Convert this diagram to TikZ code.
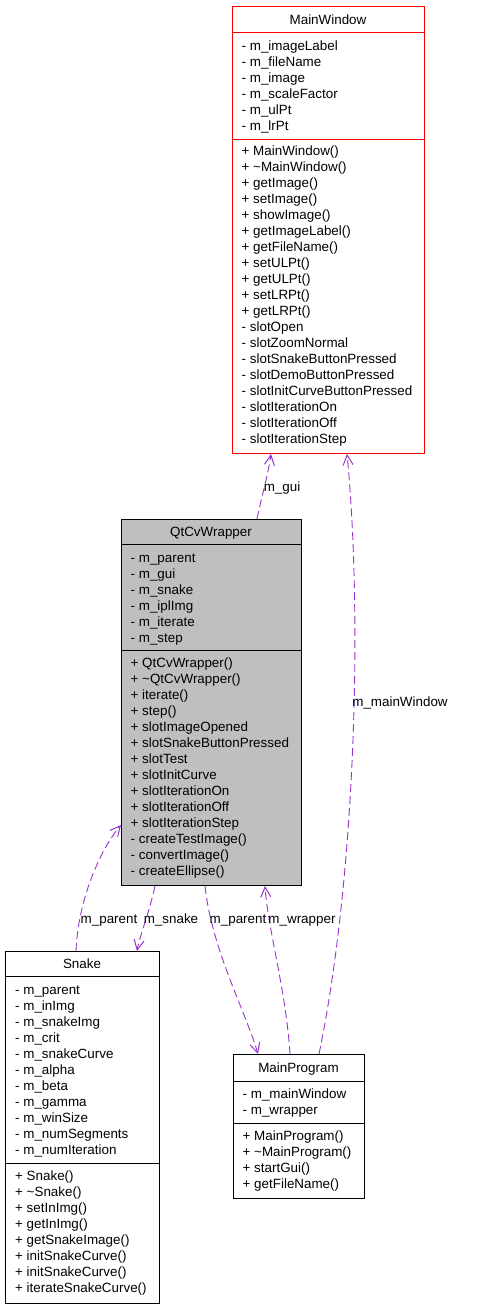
\documentclass[tikz,border=0pt]{standalone}
\usepackage{fontspec}
\setmainfont{Liberation Sans}
\usetikzlibrary{arrows.meta}
\definecolor{refpurple}{HTML}{9A32CD}
\definecolor{boxgray}{HTML}{BFBFBF}
\tikzset{
  cls/.style={draw=black, line width=1pt, fill=white, anchor=north west, inner sep=0pt},
  member/.style={anchor=west, inner sep=0pt, text height=11.5pt, text depth=1.5pt},
  title/.style={member, anchor=center},
  ref/.style={draw=refpurple, line width=0.9pt, dash pattern=on 8pt off 4pt,
    -{Straight Barb[length=10pt,width=10pt,line width=1pt]}},
  reflabel/.style={inner sep=0pt, text height=11.5pt, text depth=1.5pt}
}
\begin{document}
\begin{tikzpicture}[x=1pt, y=-1pt, font=\fontsize{13.4}{16}\selectfont]
  \useasboundingbox (0,0) rectangle (488,1307);
  % class boxes
  \node[cls, draw=red, minimum width=192pt, minimum height=447pt] (mw) at (232,6) {};
  \node[cls, fill=boxgray, minimum width=180pt, minimum height=366pt] (qt) at (121,519) {};
  \node[cls, minimum width=154pt, minimum height=352pt] (sn) at (5,951) {};
  \node[cls, minimum width=131pt, minimum height=144pt] (mp) at (233,1054) {};
  \draw[red, line width=1pt] ([yshift=-26pt]mw.north west) -- ([yshift=-26pt]mw.north east);
  \draw[red, line width=1pt] ([yshift=-133pt]mw.north west) -- ([yshift=-133pt]mw.north east);
  \draw[line width=1pt] ([yshift=-25pt]qt.north west) -- ([yshift=-25pt]qt.north east);
  \draw[line width=1pt] ([yshift=-131pt]qt.north west) -- ([yshift=-131pt]qt.north east);
  \draw[line width=1pt] ([yshift=-25pt]sn.north west) -- ([yshift=-25pt]sn.north east);
  \draw[line width=1pt] ([yshift=-212pt]sn.north west) -- ([yshift=-212pt]sn.north east);
  \draw[line width=1pt] ([yshift=-27pt]mp.north west) -- ([yshift=-27pt]mp.north east);
  \draw[line width=1pt] ([yshift=-69pt]mp.north west) -- ([yshift=-69pt]mp.north east);
  % titles
  \node[title] (mwT) at (328,19) {MainWindow};
  \node[title] (qtT) at (211,531) {QtCvWrapper};
  \node[title] (snT) at (82,963) {Snake};
  \node[title] (mpT) at (298.5,1067) {MainProgram};
  % MainWindow
  \foreach \m [count=\i from 0] in {- m\_imageLabel, - m\_fileName, - m\_image,
      - m\_scaleFactor, - m\_ulPt, - m\_lrPt}
    \node[member] (mwa\i) at (241.5,45+16*\i) {\m};
  \foreach \m [count=\i from 0] in {+ MainWindow(), + \textasciitilde MainWindow(),
      + getImage(), + setImage(), + showImage(), + getImageLabel(), + getFileName(),
      + setULPt(), + getULPt(), + setLRPt(), + getLRPt(), - slotOpen, - slotZoomNormal,
      - slotSnakeButtonPressed, - slotDemoButtonPressed, - slotInitCurveButtonPressed,
      - slotIterationOn, - slotIterationOff, - slotIterationStep}
    \node[member] (mwm\i) at (241.5,150+16*\i) {\m};
  % QtCvWrapper
  \foreach \m [count=\i from 0] in {- m\_parent, - m\_gui, - m\_snake, - m\_iplImg,
      - m\_iterate, - m\_step}
    \node[member] (qta\i) at (130.5,557+16*\i) {\m};
  \foreach \m [count=\i from 0] in {+ QtCvWrapper(), + \textasciitilde QtCvWrapper(),
      + iterate(), + step(), + slotImageOpened, + slotSnakeButtonPressed, + slotTest,
      + slotInitCurve, + slotIterationOn, + slotIterationOff, + slotIterationStep,
      - createTestImage(), - convertImage(), - createEllipse()}
    \node[member] (qtm\i) at (130.5,662+16*\i) {\m};
  % Snake
  \foreach \m [count=\i from 0] in {- m\_parent, - m\_inImg, - m\_snakeImg, - m\_crit,
      - m\_snakeCurve, - m\_alpha, - m\_beta, - m\_gamma, - m\_winSize,
      - m\_numSegments, - m\_numIteration}
    \node[member] (sna\i) at (15,989+16*\i) {\m};
  \foreach \m [count=\i from 0] in {+ Snake(), + \textasciitilde Snake(), + setInImg(),
      + getInImg(), + getSnakeImage(), + initSnakeCurve(), + initSnakeCurve(),
      + iterateSnakeCurve()}
    \node[member] (snm\i) at (15,1175+16*\i) {\m};
  % MainProgram
  \foreach \m [count=\i from 0] in {- m\_mainWindow, - m\_wrapper}
    \node[member] (mpa\i) at (242.5,1093+16*\i) {\m};
  \foreach \m [count=\i from 0] in {+ MainProgram(), + \textasciitilde MainProgram(),
      + startGui(), + getFileName()}
    \node[member] (mpm\i) at (242.5,1135+16*\i) {\m};
  % references
  \draw[ref] ([xshift=136pt]qt.north west) .. controls (262,495) and (268,475) .. ([xshift=39pt]mw.south west);
  \draw[ref] ([xshift=86pt]mp.north west) .. controls (355,880) and (363,620) .. ([xshift=115pt]mw.south west);
  \draw[ref] ([xshift=71pt]sn.north west) .. controls (78,900) and (100,850) .. ([yshift=-306pt]qt.north west);
  \draw[ref] ([xshift=34pt]qt.south west) .. controls (150,910) and (140,935) .. ([xshift=132pt]sn.north west);
  \draw[ref] ([xshift=84pt]qt.south west) .. controls (212,950) and (245,1010) .. ([xshift=25pt]mp.north west);
  \draw[ref] ([xshift=57pt]mp.north west) .. controls (286,990) and (268,930) .. ([xshift=144pt]qt.south west);
  \node[reflabel] (lgui) at (282,486) {m\_gui};
  \node[reflabel] (lmain) at (400,701) {m\_mainWindow};
  \node[reflabel] (lpar1) at (109,918) {m\_parent};
  \node[reflabel] (lsnake) at (171,918) {m\_snake};
  \node[reflabel] (lpar2) at (238,918) {m\_parent};
  \node[reflabel] (lwrap) at (302,918) {m\_wrapper};
\end{tikzpicture}
\end{document}
